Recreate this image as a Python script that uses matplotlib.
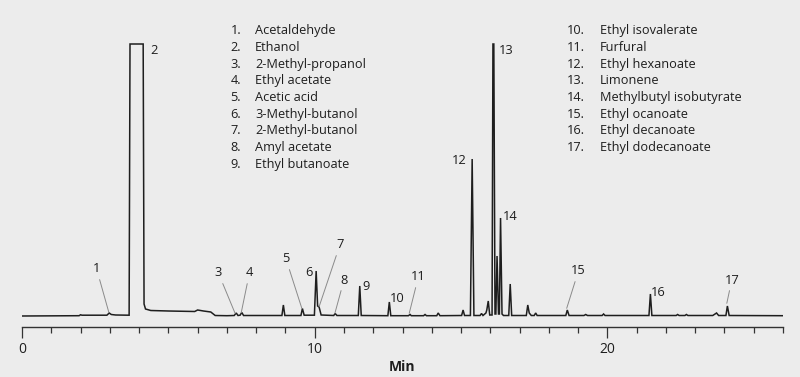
import matplotlib
matplotlib.use('Agg')
import matplotlib.pyplot as plt

plt.rcParams['font.family'] = ['Open Sans', 'DejaVu Sans']

# chromatogram trace (time in min, detector response in arbitrary units)
trace_time = [0.0, 1.95, 2.0, 2.05, 2.9, 2.98, 3.05, 3.2, 3.66, 3.69, 4.14, 4.17, 4.22, 4.4,
              5.0, 5.9, 6.0, 6.2, 6.45, 6.6, 7.0, 7.25, 7.32, 7.38, 7.45, 7.51, 7.57,
              8.88, 8.93, 8.98, 9.53, 9.58, 9.64, 9.99, 10.05, 10.1, 10.15, 10.22,
              10.65, 10.7, 10.76, 11.49, 11.54, 11.59, 12.50, 12.55, 12.60,
              13.2, 13.26, 13.3, 13.72, 13.77, 13.82, 14.17, 14.22, 14.28,
              15.02, 15.07, 15.12, 15.32, 15.38, 15.44, 15.65, 15.7, 15.75,
              15.85, 15.88, 15.93, 15.98, 16.06, 16.09, 16.12, 16.16, 16.19, 16.23,
              16.28, 16.31, 16.35, 16.40, 16.45, 16.63, 16.68, 16.73,
              17.23, 17.28, 17.33, 17.4, 17.5, 17.55, 17.6, 18.58, 18.63, 18.69,
              19.2, 19.26, 19.32, 19.82, 19.87, 19.92, 21.42, 21.47, 21.52,
              22.35, 22.4, 22.45, 22.65, 22.7, 22.75, 23.6, 23.73, 23.8,
              24.05, 24.1, 24.16, 26.0]
trace_signal = [0.0, 0.3, 1.2, 0.8, 0.8, 3.0, 1.5, 1.0, 0.8, 272, 272, 12, 7, 5.5,
                5.0, 4.5, 6.0, 5.0, 4.0, 0.5, 0.3, 0.5, 3.0, 0.5, 0.8, 3.5, 0.5,
                0.5, 11, 0.5, 0.5, 7.5, 0.8, 0.8, 45, 10, 9, 1.0,
                0.5, 2.5, 0.5, 0.5, 30, 0.5, 0.3, 14, 0.3,
                0.3, 1.5, 0.3, 0.3, 1.5, 0.3, 0.3, 3.0, 0.3,
                0.5, 6, 0.5, 0.5, 157, 0.5, 0.5, 2.5, 0.5,
                3, 6, 15, 1, 1, 272, 272, 2, 2, 60,
                2, 2, 98, 2, 0.5, 0.5, 32, 0.5,
                0.5, 11, 3, 0.5, 0.5, 3, 0.5, 0.5, 6, 0.5,
                0.5, 1.5, 0.5, 0.5, 2, 0.5, 0.5, 22, 0.5,
                0.5, 1.5, 0.5, 0.5, 1.5, 0.5, 0.5, 3, 0.5,
                0.5, 10, 0.5, 0.3]

# peak numbers: label text, label position, and peak tip for leader lines (None = no line)
peak_labels = ['1', '2', '3', '4', '5', '6', '7', '8', '9', '10',
               '11', '12', '13', '14', '15', '16', '17']
label_time = [2.55, 4.52, 6.71, 7.77, 9.02, 9.81, 10.86, 11.0, 11.75, 12.81,
              13.54, 14.94, 16.54, 16.67, 19.01, 21.72, 24.25]
label_level = [47, 265, 43, 43, 57, 44, 71, 36, 29, 18,
               39, 156, 266, 99, 45, 24, 36]
tip_time = [2.97, None, 7.28, 7.49, 9.56, None, 10.15, 10.69, None, None,
            13.23, None, None, None, 18.61, None, 24.08]
tip_level = [3.3, None, 2.7, 3.3, 7.7, None, 9.3, 2.7, None, None,
             2.7, None, None, None, 7.7, None, 12.7]

compounds_left = ['Acetaldehyde', 'Ethanol', '2-Methyl-propanol', 'Ethyl acetate',
                  'Acetic acid', '3-Methyl-butanol', '2-Methyl-butanol',
                  'Amyl acetate', 'Ethyl butanoate']
compounds_right = ['Ethyl isovalerate', 'Furfural', 'Ethyl hexanoate', 'Limonene',
                   'Methylbutyl isobutyrate', 'Ethyl ocanoate', 'Ethyl decanoate',
                   'Ethyl dodecanoate']

W, H = 800, 377
bg = '#ececec'
ink = '#1e1e1e'
fig = plt.figure(figsize=(W / 100, H / 100), dpi=100, facecolor=bg)
ax = fig.add_axes([22 / W, 50 / H, (783 - 22) / W, 317 / H], facecolor=bg)

ax.plot(trace_time, trace_signal, color=ink, lw=1.1, solid_joinstyle='miter')

for lab, lt, ll, tt, tl in zip(peak_labels, label_time, label_level, tip_time, tip_level):
    if tt is None:
        ax.text(lt, ll, lab, fontsize=9.3, ha='center', va='center', color=ink)
    else:
        ax.annotate(lab, xy=(tt, tl), xytext=(lt, ll), fontsize=9.3,
                    ha='center', va='center', color=ink,
                    arrowprops=dict(arrowstyle='-', color='#8a8a8a', lw=0.7,
                                    shrinkA=1, shrinkB=0))

ax.set_xlim(0, 26)
ax.set_ylim(-11, 306)
for s in ['top', 'right', 'left']:
    ax.spines[s].set_visible(False)
ax.spines['bottom'].set_position(('data', -11))
ax.spines['bottom'].set_color('#333333')
ax.spines['bottom'].set_linewidth(1.0)
ax.set_yticks([])
ax.set_xticks([0, 10, 20])
ax.set_xticks(range(0, 27), minor=True)
ax.tick_params(axis='x', which='major', length=8, width=0.9, color='#333333',
               labelsize=10, pad=3, labelcolor=ink)
ax.tick_params(axis='x', which='minor', length=4.5, width=0.9, color='#333333')
ax.set_xlabel('Min', fontweight='bold', fontsize=10, labelpad=2, color=ink)

# compound list
row0, step = 30.7, 16.67
for i, name in enumerate(compounds_left):
    y = 1 - (row0 + i * step) / H
    fig.text(241 / W, y, f'{i + 1}.', ha='right', va='center', fontsize=9.2, color=ink)
    fig.text(255 / W, y, name, ha='left', va='center', fontsize=9.2, color=ink)
for i, name in enumerate(compounds_right):
    y = 1 - (row0 + i * step) / H
    fig.text(585 / W, y, f'{i + 10}.', ha='right', va='center', fontsize=9.2, color=ink)
    fig.text(600 / W, y, name, ha='left', va='center', fontsize=9.2, color=ink)

fig.savefig('out.png', dpi=100, facecolor=bg)
